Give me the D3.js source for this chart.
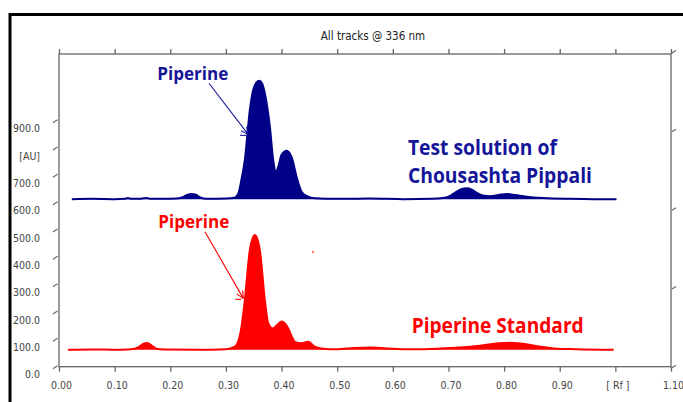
<!DOCTYPE html>
<html>
<head>
<meta charset="utf-8">
<script src="https://cdn.jsdelivr.net/npm/d3@7"></script>
<style>
  html, body { margin: 0; padding: 0; background: #fff; }
  #chart { width: 683px; height: 402px; }
</style>
</head>
<body>
<div id="chart"></div>
<script>
// Rf tick values and their labels (the 1.0 slot is labelled [Rf])
const xTicks = [0, 0.1, 0.2, 0.3, 0.4, 0.5, 0.6, 0.7, 0.8, 0.9, 1.0, 1.1];
const xLabels = ["0.00", "0.10", "0.20", "0.30", "0.40", "0.50", "0.60", "0.70", "0.80", "0.90", "[ Rf ]", "1.10"];
// AU tick values and labels (800 slot is labelled [AU])
const yTicks = [0, 100, 200, 300, 400, 500, 600, 700, 800, 900];
const yLabels = ["0.0", "100.0", "200.0", "300.0", "400.0", "500.0", "600.0", "700.0", "[AU]", "900.0"];
const rightTicks = [0, 1, 2, 3, 4];

// Track baselines (AU)
const testBase = 613;
const stdBase = 62;

// Test solution of Chousashta Pippali: [Rf, AU]
const testTrack = [
  [0.023, 613], [0.06, 614], [0.10, 613], [0.118, 614], [0.124, 617], [0.130, 614],
  [0.145, 614], [0.152, 616], [0.158, 617], [0.165, 614], [0.19, 614], [0.21, 615],
  [0.222, 620], [0.230, 628], [0.238, 632], [0.246, 629], [0.254, 619], [0.265, 614],
  [0.30, 615], [0.315, 618], [0.322, 632], [0.328, 685], [0.334, 756], [0.343, 939],
  [0.349, 1012], [0.355, 1040], [0.360, 1046], [0.365, 1036], [0.370, 1000], [0.379, 878],
  [0.385, 756], [0.390, 713], [0.395, 738], [0.400, 775], [0.409, 790], [0.418, 768],
  [0.427, 695], [0.436, 640], [0.446, 624], [0.46, 616], [0.50, 614], [0.56, 615],
  [0.62, 613], [0.67, 614], [0.69, 617], [0.70, 622], [0.712, 637], [0.724, 650],
  [0.733, 653], [0.742, 648], [0.752, 635], [0.762, 626], [0.775, 624], [0.79, 628],
  [0.805, 632], [0.82, 628], [0.84, 622], [0.87, 617], [0.92, 614], [0.96, 613], [1.002, 613]
];

// Piperine Standard: [Rf, AU]
const stdTrack = [
  [0.016, 62], [0.06, 63], [0.10, 62], [0.13, 64], [0.143, 72], [0.152, 84], [0.158, 87],
  [0.165, 80], [0.175, 66], [0.19, 63], [0.25, 62], [0.30, 64], [0.312, 70], [0.319, 79],
  [0.324, 105], [0.328, 146], [0.334, 244], [0.343, 427], [0.348, 470], [0.352, 482],
  [0.356, 470], [0.361, 427], [0.370, 244], [0.376, 159], [0.384, 140], [0.392, 152],
  [0.400, 165], [0.406, 158], [0.412, 140], [0.418, 112], [0.424, 91], [0.436, 86],
  [0.448, 91], [0.460, 73], [0.475, 66], [0.50, 64], [0.53, 68], [0.56, 70], [0.59, 67],
  [0.63, 64], [0.68, 66], [0.72, 70], [0.76, 78], [0.79, 86], [0.81, 88], [0.83, 85],
  [0.86, 75], [0.89, 67], [0.93, 64], [0.997, 62]
];

// Annotations, in [Rf, AU]
const testArrow = [[0.2696, 1037], [0.340, 850]];
const stdArrow = [[0.2624, 494], [0.3312, 250]];

const width = 683;
const height = 402;
const blue = "#000088";
const blueText = "#15159a";
const red = "#ff0000";
const axisColor = "#666";
const tickFont = "'DejaVu Sans Condensed', 'Liberation Sans Narrow', sans-serif";

const svg = d3.select("#chart")
  .append("svg")
  .attr("width", width)
  .attr("height", height);

const x = d3.scaleLinear().domain([0, 1.1]).range([59, 671]);
const y = d3.scaleLinear().domain([0, 900]).range([366.7, 120.7]);
const yRight = d3.scaleLinear().domain([0, 4]).range([366.7, 52]);
const plotTop = 54;

// outer black frame (top + left)
svg.append("line").attr("x1", 9).attr("x2", width).attr("y1", 14.5).attr("y2", 14.5)
  .attr("stroke", "#000").attr("stroke-width", 3);
svg.append("line").attr("x1", 10).attr("x2", 10).attr("y1", 13).attr("y2", height)
  .attr("stroke", "#000").attr("stroke-width", 3);

// title
svg.append("text")
  .attr("x", 373).attr("y", 40)
  .attr("text-anchor", "middle")
  .attr("font-family", tickFont)
  .attr("font-size", 11.5)
  .attr("fill", "#222")
  .text("All tracks @ 336 nm");

// plot frame
svg.append("rect")
  .attr("x", x(0)).attr("y", plotTop)
  .attr("width", x(1.1) - x(0)).attr("height", y(0) - plotTop)
  .attr("fill", "none").attr("stroke", axisColor).attr("stroke-width", 1.3);

// bottom axis
const xAxis = svg.append("g")
  .attr("transform", `translate(0,${y(0)})`)
  .call(d3.axisBottom(x).tickValues(xTicks).tickSize(5).tickSizeOuter(0).tickPadding(10)
    .tickFormat((d, i) => xLabels[i]));
xAxis.select(".domain").remove();
xAxis.selectAll("line").attr("stroke", axisColor).attr("stroke-width", 1.3);
xAxis.selectAll("text")
  .attr("dx", 2)
  .attr("font-family", tickFont)
  .attr("font-size", 10.5).attr("fill", "#444");

// top axis (ticks only)
const topAxis = svg.append("g")
  .attr("transform", `translate(0,${plotTop})`)
  .call(d3.axisTop(x).tickValues(xTicks).tickSize(5).tickSizeOuter(0).tickFormat(""));
topAxis.select(".domain").remove();
topAxis.selectAll("line").attr("stroke", axisColor).attr("stroke-width", 1.3);

// left axis: slanted ticks, labels sit a bit below each tick
const yAxis = svg.append("g")
  .attr("transform", `translate(${x(0)},0)`)
  .call(d3.axisLeft(y).tickValues(yTicks).tickSize(0).tickPadding(19)
    .tickFormat((d, i) => yLabels[i]));
yAxis.select(".domain").remove();
yAxis.selectAll("text")
  .attr("dy", "1.05em")
  .attr("font-family", tickFont)
  .attr("font-size", 10.5).attr("fill", "#444");
yAxis.selectAll(".tick").append("line")
  .attr("x1", -6).attr("y1", 1.5).attr("x2", -1.5).attr("y2", -1.5)
  .attr("stroke", axisColor).attr("stroke-width", 1.2);

// right axis: slanted ticks only
svg.append("g").selectAll("line")
  .data(rightTicks)
  .join("line")
  .attr("x1", x(1.1) + 1).attr("x2", x(1.1) + 5)
  .attr("y1", d => yRight(d) + 1).attr("y2", d => yRight(d) - 1.5)
  .attr("stroke", axisColor).attr("stroke-width", 1.2);

// tracks
const drawTrack = (track, base, color) => {
  const area = d3.area()
    .x(d => x(d[0]))
    .y0(y(base))
    .y1(d => y(d[1]))
    .curve(d3.curveMonotoneX);
  const line = d3.line()
    .x(d => x(d[0]))
    .y(d => y(d[1]))
    .curve(d3.curveMonotoneX);
  svg.append("path").datum(track).attr("d", area).attr("fill", color);
  svg.append("path").datum(track).attr("d", line)
    .attr("fill", "none").attr("stroke", color).attr("stroke-width", 2);
};
drawTrack(stdTrack, stdBase, red);
drawTrack(testTrack, testBase, blue);

// arrows
const drawArrow = (pts, color) => {
  const [p0, p1] = pts.map(p => [x(p[0]), y(p[1])]);
  svg.append("line")
    .attr("x1", p0[0]).attr("y1", p0[1]).attr("x2", p1[0]).attr("y2", p1[1])
    .attr("stroke", color).attr("stroke-width", 1.1);
  const ang = Math.atan2(p1[1] - p0[1], p1[0] - p0[0]);
  [0.45, -0.45].forEach(a => {
    svg.append("line")
      .attr("x1", p1[0]).attr("y1", p1[1])
      .attr("x2", p1[0] - 8 * Math.cos(ang + a)).attr("y2", p1[1] - 8 * Math.sin(ang + a))
      .attr("stroke", color).attr("stroke-width", 1.1);
  });
  svg.append("line")
    .attr("x1", p1[0] - 8).attr("y1", p1[1] + 1).attr("x2", p1[0] - 2).attr("y2", p1[1] + 1)
    .attr("stroke", color).attr("stroke-width", 1.1);
};
drawArrow(testArrow, blueText);
drawArrow(stdArrow, red);

// stray red mark in the original
svg.append("line")
  .attr("x1", x(0.4555)).attr("y1", y(417)).attr("x2", x(0.4575)).attr("y2", y(423))
  .attr("stroke", red).attr("stroke-width", 1.2);

// labels
const label = (txt, rf, au, color, size, len) => {
  svg.append("text")
    .attr("x", x(rf)).attr("y", y(au))
    .attr("font-family", "'Open Sans', 'Noto Sans', sans-serif")
    .attr("font-weight", "bold")
    .attr("font-size", size)
    .attr("textLength", len)
    .attr("lengthAdjust", "spacingAndGlyphs")
    .attr("fill", color)
    .text(txt);
};
label("Piperine", 0.1767, 1049, blueText, 18.5, 71);
label("Test solution of", 0.6272, 774.5, blueText, 20.5, 149);
label("Chousashta Pippali", 0.6272, 671, blueText, 20.5, 184);
label("Piperine", 0.1785, 506, red, 18.5, 71);
label("Piperine Standard", 0.6339, 122, red, 20.5, 172);
</script>
</body>
</html>
